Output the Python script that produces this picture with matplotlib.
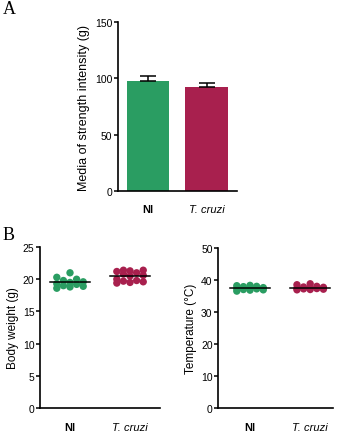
import numpy as np
import matplotlib
matplotlib.use("Agg")
import matplotlib.pyplot as plt

# colours
green = "#2a9d62"
red = "#a8204e"

groups = ["NI", "T. cruzi"]

# panel A - grip strength (mean and SEM)
strength_mean = [98, 92]
strength_err = [4, 4]

# panel B - individual animals
weight_ni = [19.2, 19.8, 20.3, 18.8, 19.5, 18.6, 20.0, 19.0, 19.6, 21.0, 19.3, 18.9]
weight_tc = [20.5, 21.2, 19.6, 21.4, 20.0, 19.4, 21.3, 20.8, 19.8, 21.0, 19.5, 20.6, 21.4, 19.7]
temp_ni = [37.5, 38.2, 36.8, 37.9, 36.5, 37.2, 38.0, 37.0, 37.6, 38.3, 37.3, 36.9]
temp_tc = [37.2, 37.8, 37.0, 37.5, 38.0, 37.3, 36.9, 37.7, 38.5, 37.4, 37.1, 38.8]

plt.rcParams['font.family'] = ['Liberation Sans', 'DejaVu Sans']
plt.rcParams['font.size'] = 7


def style_ax(ax, xpad):
    for s in ["top", "right"]:
        ax.spines[s].set_visible(False)
    for s in ["left", "bottom"]:
        ax.spines[s].set_linewidth(1.2)
    ax.tick_params(axis="y", length=3, width=1.1, labelsize=7.5, pad=1)
    ax.tick_params(axis="x", length=0, labelsize=8, pad=xpad)
    ax.set_xticks([0, 1])
    ax.set_xticklabels(groups)
    ax.get_xticklabels()[0].set_fontweight("bold")
    ax.get_xticklabels()[1].set_fontstyle("italic")


def dots(ax, values, pos, color):
    vals = np.array(values)
    order = np.argsort(vals)
    xs = np.empty(len(vals))
    # spread the dots across the column like a dot plot
    xs[order] = pos + np.tile([-0.22, 0.0, 0.22, -0.11, 0.11], 4)[:len(vals)]
    ax.scatter(xs, vals, s=28, color=color, edgecolors="none", zorder=2, clip_on=False)
    ax.plot([pos - 0.33, pos + 0.33], [vals.mean()] * 2, color="black", lw=1.1, zorder=3)


fig = plt.figure(figsize=(3.43, 4.35), dpi=100)

# panel A
axA = fig.add_axes([0.344, 0.5586, 0.347, 0.388])
axA.bar([0, 1], strength_mean, width=0.72, color=[green, red], zorder=2)
axA.errorbar([0, 1], strength_mean, yerr=[[0, 0], strength_err], fmt="none",
             ecolor="black", elinewidth=1.1, capsize=5.5, capthick=1.1, zorder=3)
axA.set_xlim(-0.51, 1.52)
axA.set_ylim(0, 150)
axA.set_yticks([0, 50, 100, 150])
axA.set_ylabel("Media of strength intensity (g)", fontsize=9, labelpad=4)
style_ax(axA, 9)

# panel B, body weight
axB1 = fig.add_axes([0.1166, 0.0598, 0.35, 0.37])
dots(axB1, weight_ni, 0, green)
dots(axB1, weight_tc, 1, red)
axB1.set_xlim(-0.5, 1.5)
axB1.set_ylim(0, 25)
axB1.set_yticks([0, 5, 10, 15, 20, 25])
axB1.set_ylabel("Body weight (g)", fontsize=8.5, labelpad=3)
style_ax(axB1, 10)

# panel B, temperature
axB2 = fig.add_axes([0.636, 0.0598, 0.335, 0.368])
dots(axB2, temp_ni, 0, green)
dots(axB2, temp_tc, 1, red)
axB2.set_xlim(-0.53, 1.38)
axB2.set_ylim(0, 50)
axB2.set_yticks([0, 10, 20, 30, 40, 50])
axB2.set_ylabel("Temperature (°C)", fontsize=8.5, labelpad=3)
style_ax(axB2, 10)

fig.text(0.008, 0.998, "A", fontsize=13, family="Liberation Serif", va="top")
fig.text(0.008, 0.478, "B", fontsize=13, family="Liberation Serif", va="top")

fig.savefig("out.png", dpi=100)
